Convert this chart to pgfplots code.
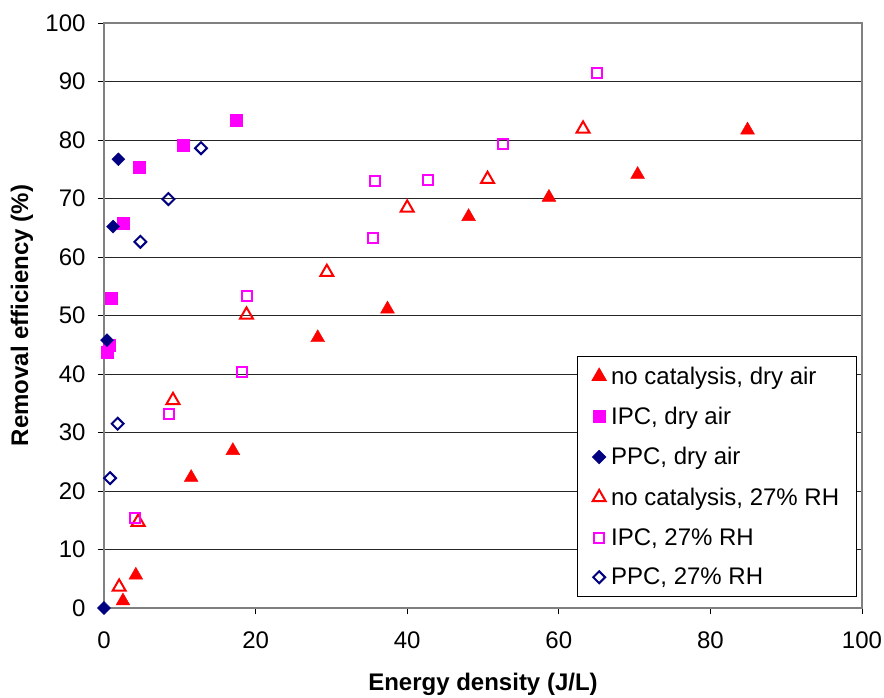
\documentclass[border=0pt]{standalone}
\usepackage{pgfplots}
\pgfplotsset{compat=1.18}
\usepackage{fontspec}
\setmainfont{Liberation Sans}
\definecolor{navyc}{RGB}{0,0,128}
\definecolor{magc}{RGB}{255,0,255}
\definecolor{redc}{RGB}{255,0,0}
\definecolor{axgray}{RGB}{128,128,128}
\begin{document}
\begin{tikzpicture}
\useasboundingbox (-104pt,-89pt) rectangle (780pt,608pt);
\begin{axis}[
  at={(0pt,0pt)}, anchor=south west,
  scale only axis, width=758pt, height=585pt,
  xmin=0, xmax=100, ymin=0, ymax=100,
  xtick={0,20,...,100}, ytick={0,10,...,100},
  xtick pos=bottom, ytick pos=left,
  tick align=outside, major tick length=6pt,
  tick style={black, line width=0.8pt},
  ymajorgrids, major grid style={black!85, line width=0.9pt},
  axis line style={axgray, line width=2pt},
  font=\fontsize{24}{28}\selectfont,
  /pgf/number format/assume math mode=true,
  ticklabel style={font=\fontsize{24}{28}\selectfont},
  yticklabel style={xshift=-9pt},
  xticklabel style={yshift=-14pt},
  xlabel={\bfseries Energy density (J/L)},
  ylabel={\bfseries Removal efficiency (\%)},
  xlabel style={at={(rel axis cs:0.5,0)}, anchor=center, yshift=-76pt},
  ylabel style={at={(rel axis cs:0,0.5)}, anchor=center, yshift=82pt},
  legend style={at={(rel axis cs:0.993,0.019)}, anchor=south east,
    draw=black, line width=1pt, fill=white,
    font=\fontsize{24}{28}\selectfont, row sep=17.5pt, column sep=3pt,
    inner xsep=15pt, inner ysep=8pt},
  legend cell align=left,
]
\addplot[only marks, mark=triangle*, mark size=8pt, color=redc, mark options={fill=redc, draw=redc}]
 coordinates {(2.5,1.2) (4.2,5.6) (11.5,22.3) (17.0,26.9) (28.2,46.2) (37.4,51.1) (48.1,66.9) (58.7,70.2) (70.4,74.1) (84.9,81.7)};
\addlegendentry{no catalysis, dry air}
\addplot[only marks, mark=square*, mark size=6pt, color=magc, mark options={fill=magc, draw=magc}]
 coordinates {(0.4,43.7) (0.7,44.9) (0.9,52.9) (2.5,65.8) (4.7,75.3) (10.4,79.1) (17.4,83.3)};
\addlegendentry{IPC, dry air}
\addplot[only marks, mark=square*, mark size=4.6pt, color=navyc, mark options={fill=navyc, draw=navyc, rotate=45}]
 coordinates {(0,0) (0.4,45.8) (1.2,65.2) (1.9,76.7)};
\addlegendentry{PPC, dry air}
\addplot[only marks, mark=triangle, mark size=7.5pt, color=redc, mark options={fill=white, draw=redc, line width=2pt}]
 coordinates {(2.0,3.6) (4.5,14.7) (9.1,35.5) (18.8,50.1) (29.4,57.4) (40.0,68.4) (50.6,73.3) (63.2,81.9)};
\addlegendentry{no catalysis, 27\% RH}
\addplot[only marks, mark=square, mark size=5pt, color=magc, mark options={fill=white, draw=magc, line width=2pt}]
 coordinates {(4.1,15.3) (8.6,33.2) (18.2,40.3) (18.9,53.3) (35.5,63.2) (35.8,73.0) (42.8,73.1) (52.7,79.4) (65.1,91.5)};
\addlegendentry{IPC, 27\% RH}
\addplot[only marks, mark=square, mark size=4.2pt, color=navyc, mark options={fill=white, draw=navyc, line width=2pt, rotate=45}]
 coordinates {(0.8,22.2) (1.8,31.5) (4.8,62.6) (8.5,69.9) (12.8,78.6)};
\addlegendentry{PPC, 27\% RH}
\end{axis}
\end{tikzpicture}
\end{document}
